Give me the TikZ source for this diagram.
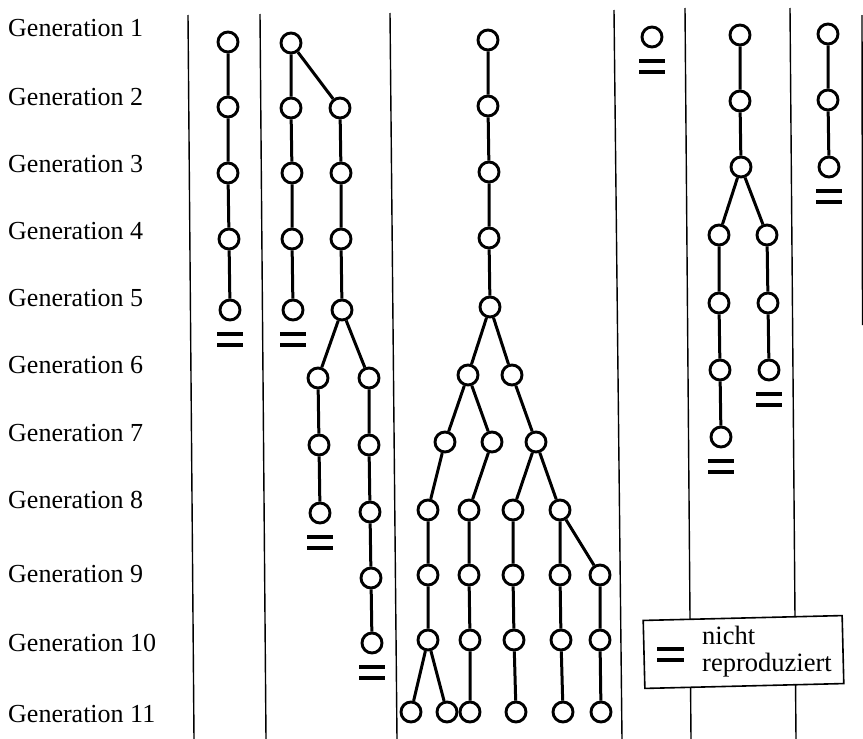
\documentclass[tikz,border=0pt]{standalone}
\usepackage{fontspec}
\setmainfont{Liberation Serif}
\usetikzlibrary{calc}
\tikzset{
  cell/.style={circle, draw, line width=2.9pt, minimum size=20pt, inner sep=0pt, fill=white},
  link/.style={line width=3pt},
  sep/.style={line width=1.4pt},
  bar/.style={line width=3.3pt},
  gen/.style={anchor=base west, inner sep=0pt, font=\fontsize{26}{28}\selectfont},
  legtext/.style={anchor=base west, inner sep=0pt, font=\fontsize{26.5}{28}\selectfont},
}
% two short bars under a cell: "nicht reproduziert"
\newcommand\stopmark[1]{%
  \draw[bar] ($(#1)+(-13,24)$) -- ++(26,0);
  \draw[bar] ($(#1)+(-13,35)$) -- ++(26,0);}
\begin{document}
\begin{tikzpicture}[x=1pt, y=-1pt]
\useasboundingbox (0,0) rectangle (863,739);

% generation labels
\foreach \g/\y in {1/36, 2/105, 3/172, 4/239, 5/306, 6/373, 7/441, 8/508, 9/582, 10/651, 11/722}
  \node[gen] (lab\g) at (8,\y) {Generation \g};

% column separators
\draw[sep] (188,15) -- (194,739);
\draw[sep] (260,14) -- (266,739);
\draw[sep] (390,13) -- (397,739);
\draw[sep] (614,10) -- (622,739);
\draw[sep] (685,8) -- (691,739);
\draw[sep] (790,8) -- (796,739);
\draw[sep] (862,15) -- (862.5,325);

% lineage A
\node[cell] (a1) at (228,42) {};
\node[cell] (a2) at (228,107) {};
\node[cell] (a3) at (228,173) {};
\node[cell] (a4) at (229,239) {};
\node[cell] (a5) at (230,310) {};
\draw[link] (a1) -- (a2) (a2) -- (a3) (a3) -- (a4) (a4) -- (a5);
\stopmark{a5}

% lineage B
\node[cell] (b1) at (291,43) {};
\node[cell] (b2) at (291,108) {};
\node[cell] (b3) at (292,173) {};
\node[cell] (b4) at (292,239) {};
\node[cell] (b5) at (293,310) {};
\node[cell] (c2) at (340,108) {};
\node[cell] (c3) at (341,173) {};
\node[cell] (c4) at (341,239) {};
\node[cell] (c5) at (342,310) {};
\node[cell] (d6) at (318,378) {};
\node[cell] (d7) at (319,445) {};
\node[cell] (d8) at (320,513) {};
\node[cell] (e6) at (369,378) {};
\node[cell] (e7) at (369,445) {};
\node[cell] (e8) at (370,512) {};
\node[cell] (e9) at (371,578) {};
\node[cell] (e10) at (372,643) {};
\draw[link] (b1) -- (b2) (b2) -- (b3) (b3) -- (b4) (b4) -- (b5);
\draw[link] (b1) -- (c2) (c2) -- (c3) (c3) -- (c4) (c4) -- (c5);
\draw[link] (c5) -- (d6) (d6) -- (d7) (d7) -- (d8);
\draw[link] (c5) -- (e6) (e6) -- (e7) (e7) -- (e8) (e8) -- (e9) (e9) -- (e10);
\stopmark{b5}
\stopmark{d8}
\stopmark{e10}

% lineage C
\node[cell] (t1) at (488,40) {};
\node[cell] (t2) at (488,106) {};
\node[cell] (t3) at (489,172) {};
\node[cell] (t4) at (489,238) {};
\node[cell] (t5) at (490,307) {};
\node[cell] (t6a) at (468,375) {};
\node[cell] (t6b) at (512,375) {};
\node[cell] (t7a) at (445,442) {};
\node[cell] (t7b) at (492,442) {};
\node[cell] (t7c) at (536,442) {};
\node[cell] (t8a) at (428,510) {};
\node[cell] (t8b) at (469,510) {};
\node[cell] (t8c) at (513,510) {};
\node[cell] (t8d) at (560,510) {};
\node[cell] (t9a) at (428,575) {};
\node[cell] (t9b) at (469,575) {};
\node[cell] (t9c) at (513,575) {};
\node[cell] (t9d) at (560,575) {};
\node[cell] (t9e) at (600,575) {};
\node[cell] (t10a) at (428,640) {};
\node[cell] (t10b) at (470,640) {};
\node[cell] (t10c) at (514,640) {};
\node[cell] (t10d) at (561,640) {};
\node[cell] (t10e) at (600,640) {};
\node[cell] (t11a) at (411,712) {};
\node[cell] (t11b) at (447,712) {};
\node[cell] (t11c) at (470,712) {};
\node[cell] (t11d) at (516,712) {};
\node[cell] (t11e) at (563,712) {};
\node[cell] (t11f) at (601,712) {};
\draw[link] (t1) -- (t2) (t2) -- (t3) (t3) -- (t4) (t4) -- (t5);
\draw[link] (t5) -- (t6a) (t5) -- (t6b);
\draw[link] (t6a) -- (t7a) (t6a) -- (t7b) (t6b) -- (t7c);
\draw[link] (t7a) -- (t8a) (t7b) -- (t8b) (t7c) -- (t8c) (t7c) -- (t8d);
\draw[link] (t8a) -- (t9a) (t8b) -- (t9b) (t8c) -- (t9c) (t8d) -- (t9d) (t8d) -- (t9e);
\draw[link] (t9a) -- (t10a) (t9b) -- (t10b) (t9c) -- (t10c) (t9d) -- (t10d) (t9e) -- (t10e);
\draw[link] (t10a) -- (t11a) (t10a) -- (t11b) (t10b) -- (t11c) (t10c) -- (t11d) (t10d) -- (t11e) (t10e) -- (t11f);

% lineage D
\node[cell] (s1) at (652,37) {};
\stopmark{s1}

% lineage E
\node[cell] (u1) at (740,35) {};
\node[cell] (u2) at (740,101) {};
\node[cell] (u3) at (741,167) {};
\node[cell] (u4a) at (719,235) {};
\node[cell] (u4b) at (767,235) {};
\node[cell] (u5a) at (719,303) {};
\node[cell] (u6a) at (720,370) {};
\node[cell] (u7a) at (721,437) {};
\node[cell] (u5b) at (768,303) {};
\node[cell] (u6b) at (769,370) {};
\draw[link] (u1) -- (u2) (u2) -- (u3) (u3) -- (u4a) (u3) -- (u4b);
\draw[link] (u4a) -- (u5a) (u5a) -- (u6a) (u6a) -- (u7a);
\draw[link] (u4b) -- (u5b) (u5b) -- (u6b);
\stopmark{u7a}
\stopmark{u6b}

% lineage F
\node[cell] (f1) at (828,34) {};
\node[cell] (f2) at (828,100) {};
\node[cell] (f3) at (829,167) {};
\draw[link] (f1) -- (f2) (f2) -- (f3);
\stopmark{f3}

% legend
\node[draw, fill=white, line width=1.6pt, minimum width=199pt, minimum height=68pt,
      inner sep=0pt, rotate=1.4] (legend) at (743.5,652) {};
\draw[bar] (657,649) -- (684,649);
\draw[bar] (657,660) -- (684,660);
\node[legtext] (leg1) at (702,644) {nicht};
\node[legtext] (leg2) at (702,671) {reproduziert};
\end{tikzpicture}
\end{document}
